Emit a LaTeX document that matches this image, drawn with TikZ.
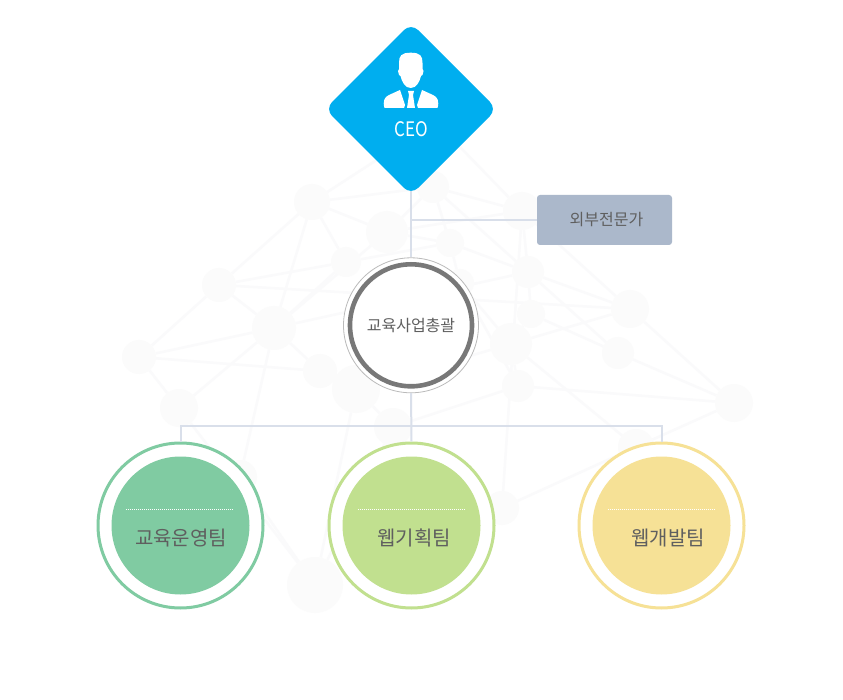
\documentclass[tikz,border=0pt]{standalone}
\usepackage{fontspec}
\setmainfont{Noto Sans CJK KR}
\usetikzlibrary{backgrounds}
\definecolor{netnode}{HTML}{FBFBFB}
\definecolor{netedge}{HTML}{FAFAFB}
\definecolor{wire}{HTML}{D9DFEA}
\definecolor{ceoblue}{HTML}{00AEEF}
\definecolor{boxgrey}{HTML}{ABB8CB}
\definecolor{label}{HTML}{5F5F5F}
\definecolor{teamgreen}{HTML}{80CBA2}
\definecolor{teamlime}{HTML}{C1E08F}
\definecolor{teamyellow}{HTML}{F6E196}
\tikzset{
  net/.style={circle,fill=netnode,inner sep=0pt,minimum size=#1},
  netline/.style={draw=netedge,line width=2.5pt},
  wireline/.style={draw=wire,line width=2pt},
  teamring/.style={circle,draw=#1,line width=3pt,fill=white,minimum size=165pt,inner sep=0pt},
  teamdisc/.style={circle,fill=#1,minimum size=138pt,inner sep=0pt},
  teamtext/.style={text=label,font=\fontsize{20}{23}\selectfont,inner sep=0pt},
  dotline/.style={draw=white,line width=1pt,dash pattern=on 1pt off 1pt},
}
\begin{document}
\begin{tikzpicture}[x=1pt,y=-1pt]
\useasboundingbox (0,0) rectangle (843,700);
\node[net=36pt] (n1) at (312,202) {};
\node[net=42pt] (n2) at (387,232) {};
\node[net=30pt] (n3) at (346,262) {};
\node[net=34pt] (n4) at (219,285) {};
\node[net=44pt] (n5) at (274,328) {};
\node[net=34pt] (n6) at (139,357) {};
\node[net=34pt] (n7) at (320,371) {};
\node[net=48pt] (n8) at (356,389) {};
\node[net=38pt] (n9) at (179,408) {};
\node[net=38pt] (n10) at (393,427) {};
\node[net=32pt] (n11) at (433,187) {};
\node[net=38pt] (n12) at (522,211) {};
\node[net=28pt] (n13) at (450,243) {};
\node[net=32pt] (n14) at (528,272) {};
\node[net=38pt] (n15) at (630,309) {};
\node[net=28pt] (n16) at (531,314) {};
\node[net=42pt] (n17) at (511,344) {};
\node[net=32pt] (n18) at (618,353) {};
\node[net=32pt] (n19) at (518,386) {};
\node[net=38pt] (n20) at (734,403) {};
\node[net=28pt] (n21) at (460,283) {};
\node[net=36pt] (n22) at (636,447) {};
\node[net=34pt] (n23) at (240,477) {};
\node[net=34pt] (n24) at (502,508) {};
\node[net=56pt] (n25) at (315,585) {};
\coordinate (t1) at (392,150);
\coordinate (t2) at (460,147);
\begin{scope}[on background layer]
\fill[white] (0,0) rectangle (843,700);
\foreach \a/\b in {n1/n2,n1/n3,n1/n4,n1/n5,n1/t1,n1/n11,n4/n5,n4/n6,n4/n3,n4/n15,n5/n6,n5/n9,n5/n2,n5/n3,n5/n7,n5/n14,n5/n23,n6/n7,n6/n9,n7/n8,n8/n10,n8/n25,n9/n25,n2/n12,n3/n13,n2/n13,n11/n12,n11/n13,n11/n14,n2/n11,t2/n12,n12/n15,n12/n14,n12/n24,n13/n14,n13/n21,n14/n15,n14/n16,n14/n18,n16/n18,n15/n20,n18/n20,n19/n20,n17/n15,n17/n19,n17/n22,n16/n17,n21/n17,n19/n10,n20/n22,n22/n24,n17/n8,n19/n21,n23/n25,n25/n10}
  \draw[netline] (\a) -- (\b);
\end{scope}
\node[teamring=teamgreen] (ringa) at (180.5,525.5) {};
\node[teamring=teamlime] (ringb) at (411.5,525.5) {};
\node[teamring=teamyellow] (ringc) at (661.5,525.5) {};
\node[teamdisc=teamgreen] (disca) at (ringa) {};
\node[teamdisc=teamlime] (discb) at (ringb) {};
\node[teamdisc=teamyellow] (discc) at (ringc) {};
\node[rounded corners=3pt,fill=boxgrey,minimum width=135pt,minimum height=50pt,inner sep=0pt,text=label,font=\fontsize{16}{18}\selectfont] (ext) at (604.5,220) {\hspace{4pt}\raisebox{-3pt}{외부전문가}};
\node[circle,draw=black!27,line width=.8pt,fill=white,minimum size=135pt,inner sep=0pt] (halo) at (411,325.3) {};
\node[circle,draw=black!53,line width=4.6pt,fill=white,minimum size=122pt,inner sep=0pt,text=label,font=\fontsize{16}{18}\selectfont] (hub) at (halo) {\raisebox{-2.5pt}{교육사업총괄}};
\coordinate (ceoTip) at (411,191);
\coordinate (busa) at (180.5,426);
\coordinate (busb) at (411,426);
\coordinate (busc) at (661.5,426);
\coordinate (tap) at (411,220);
\draw[wireline] (ceoTip) -- (halo.north);
\draw[wireline] (tap) -- (ext.west);
\draw[wireline] (halo.south) -- (ringb.north);
\draw[wireline] (ringa.north) -- (busa) -- (busc) -- (ringc.north);
\draw[dotline] (126,509) -- (234,509);
\draw[dotline] (358,509) -- (465,509);
\draw[dotline] (608,509) -- (715,509);
\node[teamtext] (ta) at (181,538) {교육운영팀};
\node[teamtext] (tb) at (414,538) {웹기획팀};
\node[teamtext] (tc) at (668,538) {웹개발팀};
\fill[ceoblue,rounded corners=10pt] (411,23) -- (497,109) -- (411,195) -- (325,109) -- cycle;
\node[text=white,font=\fontsize{20}{22}\selectfont,inner sep=0pt] (ceo) at (411,129) {\scalebox{.85}[1]{CEO}};
\fill[white] (410.7,52.7) .. controls (401,52.7) and (399,56) .. (399,63)
  -- (399,69) -- (398,71) -- (399,75) -- (400.5,76)
  .. controls (402,82) and (405,88) .. (410.7,88)
  .. controls (416.5,88) and (419.5,82) .. (421,76)
  -- (422.5,75) -- (423.5,71) -- (422.5,69) -- (422.5,63)
  .. controls (422.5,56) and (420.5,52.7) .. (410.7,52.7) -- cycle;
\fill[white] (384.5,108) .. controls (382.5,101) and (384.5,97) .. (389,95) -- (400,90) -- (405,105) -- (404,108) -- cycle;
\fill[white] (437.5,108) .. controls (439.5,101) and (437.5,97) .. (433,95) -- (422,90) -- (417,105) -- (418,108) -- cycle;
\fill[white] (408,91) -- (414,91) -- (413,95) -- (415,108) -- (407,108) -- (409,95) -- cycle;
\end{tikzpicture}
\end{document}
